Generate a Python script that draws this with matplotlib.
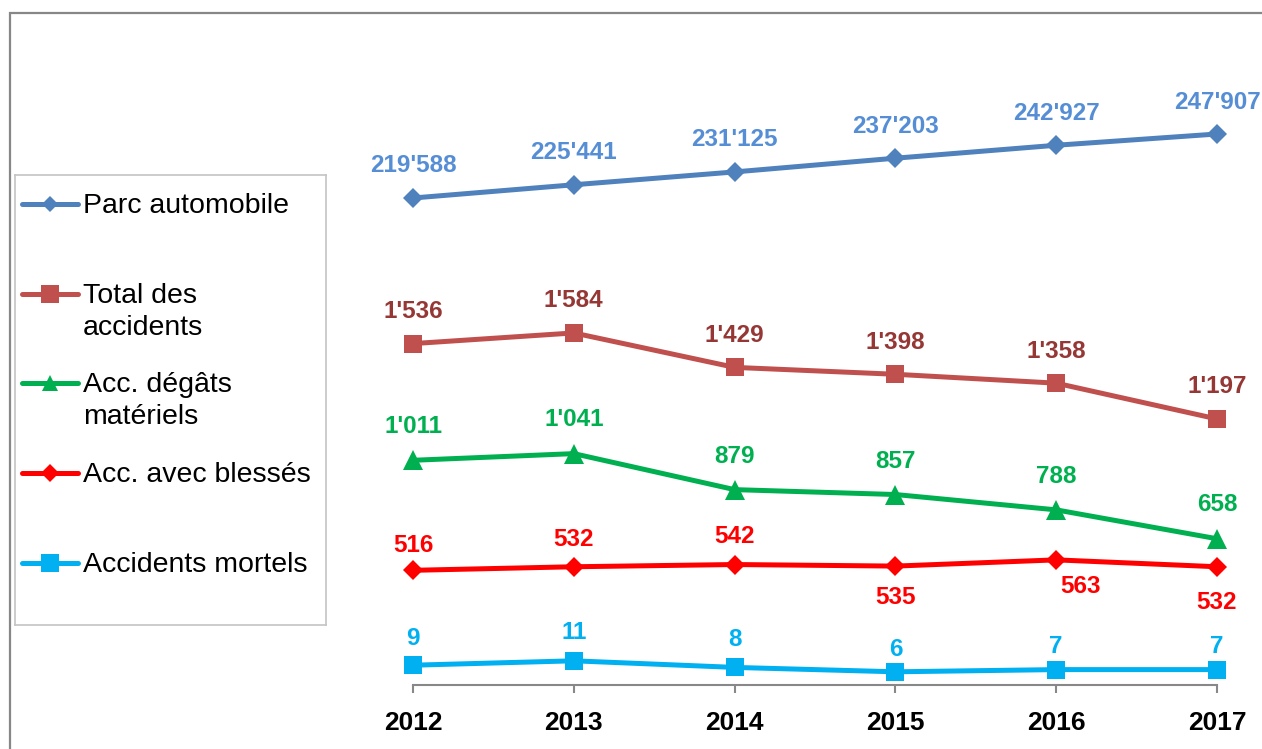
import matplotlib
matplotlib.use('Agg')
import matplotlib.pyplot as plt
from matplotlib.patches import Rectangle

plt.rcParams['font.family'] = ['Liberation Sans', 'DejaVu Sans']

# ── Data ──
years = ['2012', '2013', '2014', '2015', '2016', '2017']
parc = [219588, 225441, 231125, 237203, 242927, 247907]
total = [1536, 1584, 1429, 1398, 1358, 1197]
degats = [1011, 1041, 879, 857, 788, 658]
blesses = [516, 532, 542, 535, 563, 532]
mortels = [9, 11, 8, 6, 7, 7]

names = ['Parc automobile', 'Total des\naccidents', 'Acc. dégâts\nmatériels',
         'Acc. avec blessés', 'Accidents mortels']


def fmt(v):
    return f"{v:,}".replace(',', "'")


W, H = 1262, 749
fig = plt.figure(figsize=(W / 100, H / 100), dpi=100)

# outer frame (runs off the right and bottom edges)
fig.patches.append(Rectangle((10 / W, -0.2), 2.0, 1.2 - 13 / H,
                             transform=fig.transFigure, fill=False,
                             edgecolor='#878787', linewidth=1.6))

# ── Plot area ──
left, right = 413 / W, 1217 / W
bottom, top = 1 - 685 / H, 1 - 100 / H
ax = fig.add_axes([left, bottom, right - left, top - bottom])
ax.set_xlim(0, len(years) - 1)
ax.set_ylim(0, 2632)
for s in ['top', 'left', 'right']:
    ax.spines[s].set_visible(False)
ax.spines['bottom'].set_color('#888888')
ax.spines['bottom'].set_linewidth(1.5)
ax.set_xticks(range(len(years)))
ax.set_xticklabels(years, fontsize=19, fontweight='bold')
ax.tick_params(axis='x', length=6, width=1.5, color='#888888', pad=13)
ax.set_yticks([])
ax.patch.set_alpha(0)

# parc and fatal accidents sit on their own scales
ax_parc = ax.twinx()
ax_parc.set_ylim(4090, 262953)
ax_mort = ax.twinx()
ax_mort.set_ylim(0, 266)
for a in (ax_parc, ax_mort):
    a.axis('off')

xs = list(range(len(years)))

# series: (axis, values, line colour, label colour, marker, size, label offsets px)
series = [
    (ax_parc, parc, '#4F81BD', '#558ED5', 'D', 10,
     [(0, 32)] * 6),
    (ax, total, '#C0504D', '#953735', 's', 12.5,
     [(0, 32)] * 6),
    (ax, degats, '#00B050', '#00B050', '^', 14.5,
     [(0, 34), (0, 34), (0, 33), (0, 33), (0, 33), (0, 34)]),
    (ax, blesses, '#FF0000', '#FF0000', 'D', 10.5,
     [(0, 25), (0, 27), (0, 28), (0, -31), (24, -27), (0, -36)]),
    (ax_mort, mortels, '#00B0F0', '#00B0F0', 's', 12.5,
     [(0, 27), (0, 28), (0, 28), (0, 22), (0, 23), (0, 23)]),
]

for a, vals, col, lcol, mk, ms, offs in series:
    a.plot(xs, vals, color=col, linewidth=3.6, marker=mk, markersize=ms,
           markeredgewidth=0, clip_on=False, zorder=3)
    for x, v, (dx, dy) in zip(xs, vals, offs):
        a.annotate(fmt(v), (x, v), xytext=(dx * 0.72, dy * 0.72),
                   textcoords='offset points', ha='center', va='center',
                   fontsize=17.5, fontweight='bold', color=lcol,
                   annotation_clip=False)

# ── Legend (drawn in a pixel-coordinate box) ──
lg = fig.add_axes([15 / W, 1 - 625 / H, (326 - 15) / W, (625 - 175) / H])
lg.set_xlim(15, 326)
lg.set_ylim(625, 175)
lg.set_xticks([])
lg.set_yticks([])
for s in lg.spines.values():
    s.set_color('#C4C4C4')
    s.set_linewidth(1.2)

leg_y = [204, 294, 383, 473, 563]
leg_ms = [8.5, 13, 12, 9.5, 13]
for (a, vals, col, lcol, mk, ms, offs), name, y, lms in zip(series, names, leg_y, leg_ms):
    lg.plot([22, 78], [y, y], color=col, linewidth=3.6, solid_capstyle='round')
    lg.plot([50], [y], marker=mk, color=col, markersize=lms, markeredgewidth=0)
    for i, line in enumerate(name.split('\n')):
        lg.text(83, y + 2 + i * 32, line, fontsize=20.5, va='center', ha='left',
                color='black')

fig.savefig('out.png', dpi=100)
